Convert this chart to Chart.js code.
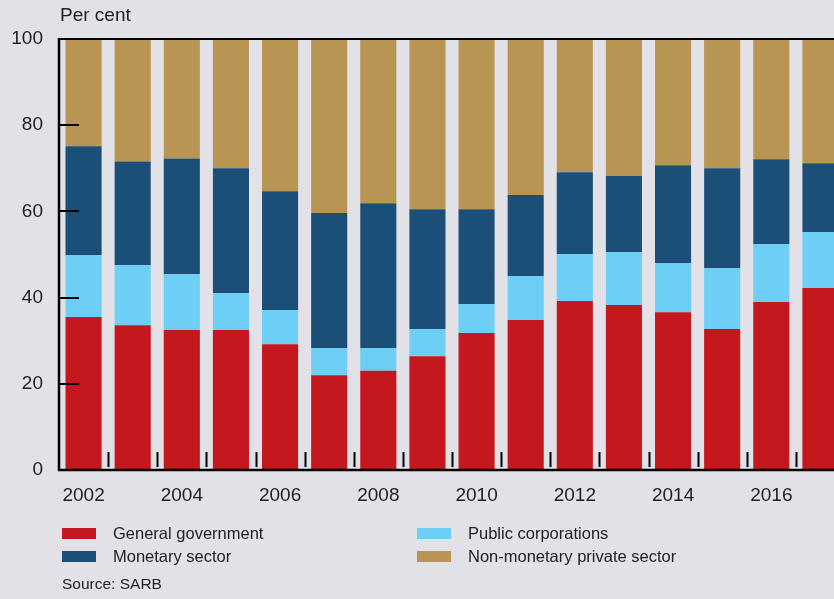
<!DOCTYPE html>
<html>
<head>
<meta charset="utf-8">
<script src="https://cdn.jsdelivr.net/npm/chart.js@4.4.1/dist/chart.umd.min.js"></script>
<style>
  html, body { margin: 0; padding: 0; background: #e2e1e7; overflow: hidden; }
  #wrap { position: relative; width: 850px; height: 599px; }
</style>
</head>
<body>
<div id="wrap"><canvas id="chart" width="850" height="599"></canvas></div>
<script>
// Years on the x axis
const years = ["2002","2003","2004","2005","2006","2007","2008","2009",
               "2010","2011","2012","2013","2014","2015","2016","2017"];

// Share of total (per cent)
const generalGovernment = [35.5, 33.6, 32.5, 32.5, 29.2, 22.0, 23.0, 26.4, 31.8, 34.8, 39.2, 38.3, 36.6, 32.7, 39.0, 42.2];
const publicCorporations = [14.3, 13.9, 12.9, 8.5, 7.9, 6.3, 5.3, 6.3, 6.7, 10.2, 10.9, 12.2, 11.4, 14.1, 13.4, 13.0];
const monetarySector = [25.3, 24.1, 26.9, 29.0, 27.6, 31.3, 33.6, 27.8, 22.0, 18.8, 19.0, 17.7, 22.7, 23.2, 19.7, 16.0];
const nonMonetaryPrivate = [24.9, 28.4, 27.7, 30.0, 35.3, 40.4, 38.1, 39.5, 39.5, 36.2, 30.9, 31.8, 29.3, 30.0, 27.9, 28.8];

const yTicks = [0, 20, 40, 60, 80, 100];

const textColor = "#222";
const font = "Liberation Sans, Arial, sans-serif";

// legend order in the picture: left column then right column
const legendOrder = [0, 2, 1, 3];

// inward tick marks, top border, unit label, legend and source
const decorations = {
  id: "decorations",
  afterDatasetsDraw(chart) {
    const { ctx, chartArea: a, scales } = chart;
    ctx.save();
    ctx.strokeStyle = "#000";

    // y ticks pointing into the plot
    ctx.lineWidth = 2;
    yTicks.forEach(v => {
      if (v === 0 || v === 100) return;
      const y = Math.round(scales.y.getPixelForValue(v));
      ctx.beginPath();
      ctx.moveTo(a.left, y);
      ctx.lineTo(a.left + 20, y);
      ctx.stroke();
    });

    // x ticks between the bars
    for (let i = 0; i < years.length - 1; i++) {
      const x = Math.round((scales.x.getPixelForValue(i) + scales.x.getPixelForValue(i + 1)) / 2) + 0.5;
      ctx.beginPath();
      ctx.moveTo(x, a.bottom - 18);
      ctx.lineTo(x, a.bottom - 3);
      ctx.stroke();
    }

    // frame: top, left, bottom
    ctx.lineWidth = 2;
    ctx.beginPath();
    ctx.moveTo(a.left, a.top);
    ctx.lineTo(chart.width, a.top);
    ctx.stroke();
    ctx.lineWidth = 2.5;
    ctx.beginPath();
    ctx.moveTo(a.left, a.top - 1);
    ctx.lineTo(a.left, a.bottom + 1);
    ctx.stroke();
    ctx.beginPath();
    ctx.moveTo(a.left - 1, a.bottom);
    ctx.lineTo(chart.width, a.bottom);
    ctx.stroke();

    // unit
    ctx.fillStyle = textColor;
    ctx.font = "19px " + font;
    ctx.textBaseline = "middle";
    ctx.textAlign = "left";
    ctx.fillText("Per cent", a.left + 1, 16);

    // legend in two columns
    ctx.font = "16.5px " + font;
    legendOrder.forEach((di, k) => {
      const ds = chart.data.datasets[di];
      const col = Math.floor(k / 2), row = k % 2;
      const bx = 62 + col * 355, by = 533 + row * 23;
      ctx.fillStyle = ds.backgroundColor;
      ctx.fillRect(bx, by - 5, 34, 11);
      ctx.fillStyle = textColor;
      ctx.fillText(ds.label, bx + 51, by + 1);
    });

    ctx.font = "15.5px " + font;
    ctx.fillText("Source: SARB", 62, 585);
    ctx.restore();
  }
};

new Chart(document.getElementById("chart"), {
  type: "bar",
  data: {
    labels: years,
    datasets: [
      { label: "General government", data: generalGovernment, backgroundColor: "#c4171e" },
      { label: "Public corporations", data: publicCorporations, backgroundColor: "#6dcff6" },
      { label: "Monetary sector", data: monetarySector, backgroundColor: "#1c4f78" },
      { label: "Non-monetary private sector", data: nonMonetaryPrivate, backgroundColor: "#b89553" }
    ]
  },
  options: {
    responsive: false,
    animation: false,
    layout: { padding: { top: 39, right: 5, bottom: 89, left: 0 } },
    datasets: { bar: { categoryPercentage: 1, barPercentage: 0.735, borderWidth: 0 } },
    plugins: { legend: { display: false }, tooltip: { enabled: false } },
    scales: {
      x: {
        stacked: true,
        grid: { display: false, drawTicks: false },
        border: { display: false },
        ticks: {
          autoSkip: false,
          maxRotation: 0,
          padding: 14,
          color: textColor,
          font: { family: font, size: 19 },
          callback: (v, i) => (i % 2 === 0 ? years[i] : "")
        },
        afterFit: s => { s.height = 40; }
      },
      y: {
        stacked: true,
        min: 0,
        max: 100,
        afterBuildTicks: s => { s.ticks = yTicks.map(v => ({ value: v })); },
        grid: { display: false, drawTicks: false },
        border: { display: false },
        ticks: {
          padding: 16,
          color: textColor,
          font: { family: font, size: 19 }
        },
        afterFit: s => { s.width = 59; }
      }
    }
  },
  plugins: [decorations]
});
</script>
</body>
</html>
